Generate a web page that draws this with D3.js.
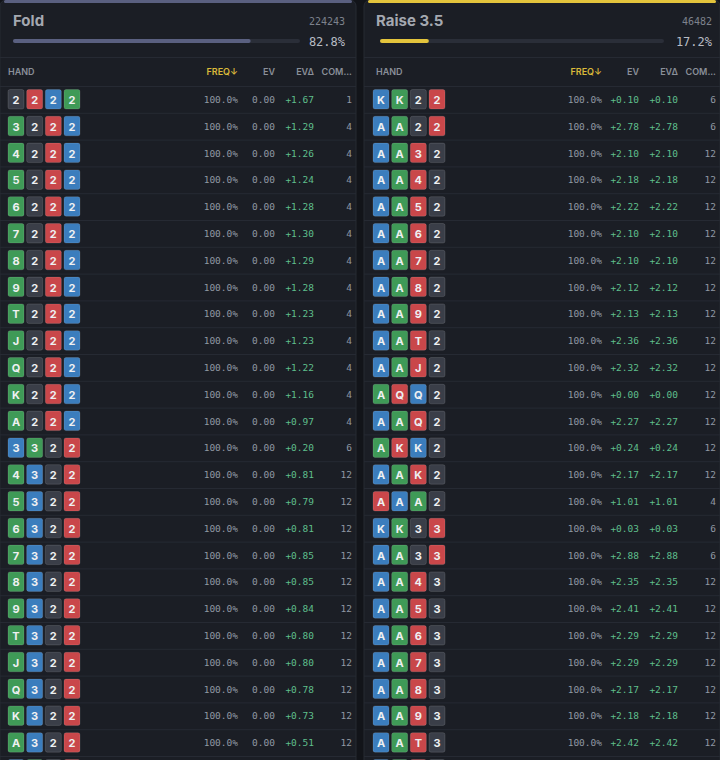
<!DOCTYPE html>
<html><head><meta charset="utf-8">
<script src="https://cdn.jsdelivr.net/npm/d3@7"></script>
<style>body{margin:0;background:#121419;overflow:hidden}</style>
</head><body><svg id="c" width="720" height="760"></svg>
<script>
const panelTitles=["Fold","Raise 3.5"];
const panelCounts=["224243","46482"];
const panelPcts=[82.8,17.2];
const headers=["HAND","FREQ↓","EV","EV∆","COM..."];
const leftHands=["2222","3222","4222","5222","6222","7222","8222","9222","T222","J222","Q222","K222","A222","3322","4322","5322","6322","7322","8322","9322","T322","J322","Q322","K322","A322","4422"];
const leftSuits=["drbg","gdrb","gdrb","gdrb","gdrb","gdrb","gdrb","gdrb","gdrb","gdrb","gdrb","gdrb","gdrb","bgdr","gbdr","gbdr","gbdr","gbdr","gbdr","gbdr","gbdr","gbdr","gbdr","gbdr","gbdr","bgdr"];
const leftEV=[0,0,0,0,0,0,0,0,0,0,0,0,0,0,0,0,0,0,0,0,0,0,0,0,0,0];
const leftEVd=[1.67,1.29,1.26,1.24,1.28,1.30,1.29,1.28,1.23,1.23,1.22,1.16,0.97,0.20,0.81,0.79,0.81,0.85,0.85,0.84,0.80,0.80,0.78,0.73,0.51,0.50];
const leftCombos=[1,4,4,4,4,4,4,4,4,4,4,4,4,6,12,12,12,12,12,12,12,12,12,12,12,6];
const rightHands=["KK22","AA22","AA32","AA42","AA52","AA62","AA72","AA82","AA92","AAT2","AAJ2","AQQ2","AAQ2","AKK2","AAK2","AAA2","KK33","AA33","AA43","AA53","AA63","AA73","AA83","AA93","AAT3","AAJ3"];
const rightSuits=["bgdr","bgdr","bgrd","bgrd","bgrd","bgrd","bgrd","bgrd","bgrd","bgrd","bgrd","grbd","bgrd","grbd","bgrd","rbgd","bgdr","bgdr","bgrd","bgrd","bgrd","bgrd","bgrd","bgrd","bgrd","bgrd"];
const rightEV=[0.10,2.78,2.10,2.18,2.22,2.10,2.10,2.12,2.13,2.36,2.32,0.00,2.27,0.24,2.17,1.01,0.03,2.88,2.35,2.41,2.29,2.29,2.17,2.18,2.42,2.40];
const rightCombos=[6,6,12,12,12,12,12,12,12,12,12,12,12,12,12,4,6,6,12,12,12,12,12,12,12,12];
const freqs=100.0;

const suitColor={b:"#3b7dbd",g:"#3f9a57",r:"#c9474a",d:"#3a3e48"};
const topColors=["#5a6080","#e3c43c"];
const svg=d3.select("#c");
const mono="'DejaVu Sans Mono',monospace";
const sans="Inter,'Noto Sans',sans-serif";
const panels=[
 {x:0,hands:leftHands,suits:leftSuits,ev:leftEV,evd:leftEVd,co:leftCombos,right:false},
 {x:364,hands:rightHands,suits:rightSuits,ev:rightEV,evd:rightEV,co:rightCombos,right:true}];
const fmt=d3.format("+.2f");
panels.forEach((p,pi)=>{
  const g=svg.append("g").attr("transform",`translate(${p.x},0)`);
  g.append("rect").attr("x",0).attr("y",0).attr("width",356).attr("height",770).attr("rx",6).attr("fill","#1b1e25").attr("stroke","#262a33");
  g.append("rect").attr("x",4).attr("y",0).attr("width",348).attr("height",3).attr("rx",1.5).attr("fill",topColors[pi]);
  g.append("text").attr("x",pi?12:13).attr("y",26).attr("fill","#a4a8b0").attr("font-family",sans).attr("font-weight",700).attr("font-size",15).text(panelTitles[pi]);
  g.append("text").attr("x",pi?348:345).attr("y",25).attr("text-anchor","end").attr("fill","#7d828c").attr("font-family",mono).attr("font-size",10).text(panelCounts[pi]);
  const bx=d3.scaleLinear().domain([0,100]).range([pi?16:13,pi?300:300]);
  g.append("rect").attr("x",bx(0)).attr("y",39).attr("width",bx(100)-bx(0)).attr("height",4).attr("rx",2).attr("fill","#2a2e38");
  g.append("rect").attr("x",bx(0)).attr("y",39).attr("width",bx(panelPcts[pi])-bx(0)).attr("height",4).attr("rx",2).attr("fill",topColors[pi]);
  g.append("text").attr("x",pi?348:345).attr("y",46).attr("text-anchor","end").attr("fill","#b8bcc4").attr("font-family",mono).attr("font-size",12).text(panelPcts[pi].toFixed(1)+"%");
  g.append("line").attr("x1",0).attr("x2",356).attr("y1",57.5).attr("y2",57.5).attr("stroke","#262a33");
  const colX=[8,238,275,314,352];
  headers.forEach((h,i)=>g.append("text").attr("x",pi&&i==0?12:colX[i]).attr("y",75).attr("text-anchor",i?"end":"start")
    .attr("fill",i==1?"#d9b93a":"#8a8f99").attr("font-family",sans).attr("font-weight",600).attr("font-size",9).text(h));
  const y=d3.scaleBand().domain(d3.range(p.hands.length)).range([86,86+26.8*p.hands.length]);
  const rows=g.selectAll(".r").data(p.hands).join("g").attr("transform",(d,i)=>`translate(0,${y(i)})`);
  rows.append("line").attr("x1",0).attr("x2",356).attr("y1",0.5).attr("y2",0.5).attr("stroke","#262a33");
  const cx=d3.scaleLinear().domain([0,3]).range([pi?9:8,pi?65:64]);
  const vis=i=>y(i)+22<760;
  rows.each(function(d,i){
    const r=d3.select(this);
    d.split("").forEach((c,k)=>{
      const s=p.suits[i][k];
      r.append("rect").attr("x",cx(k)).attr("y",3.5).attr("width",16).attr("height",19.5).attr("rx",2).attr("fill",suitColor[s]).attr("stroke","rgba(255,255,255,0.12)");
      if(vis(i)) r.append("text").attr("x",cx(k)+8).attr("y",18).attr("text-anchor","middle").attr("fill","#eef0f2").attr("font-family",sans).attr("font-weight",700).attr("font-size",11).text(c);
    });
  });
  const vrows=rows.filter((d,i)=>vis(i));
  const t=(x,f,col)=>vrows.append("text").attr("x",x).attr("y",17).attr("text-anchor","end").attr("fill",col).attr("font-family",mono).attr("font-size",9.5).text(f);
  t(238,()=>freqs.toFixed(1)+"%","#8f98a3");
  t(275,(d,i)=>p.right?fmt(p.ev[i]):p.ev[i].toFixed(2),p.right?"#5fbf8c":"#8f98a3");
  t(314,(d,i)=>fmt(p.evd[i]),"#5fbf8c");
  t(352,(d,i)=>p.co[i],"#8f98a3");
});
</script></body></html>
